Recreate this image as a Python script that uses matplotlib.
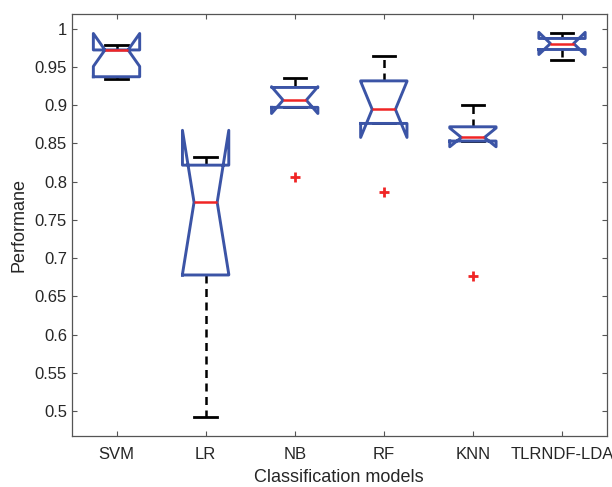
import numpy as np
import matplotlib
matplotlib.use('Agg')
import matplotlib.pyplot as plt

models = ['SVM', 'LR', 'NB', 'RF', 'KNN', 'TLRNDF-LDA']
# boxplot statistics
q1 = [0.937, 0.678, 0.897, 0.876, 0.853, 0.9726]
med = [0.972, 0.773, 0.9064, 0.8943, 0.8577, 0.9804]
q3 = [0.972, 0.8215, 0.923, 0.9316, 0.8716, 0.987]
cilo = [0.9505, 0.679, 0.889, 0.8577, 0.8455, 0.966]
cihi = [0.9935, 0.867, 0.924, 0.9309, 0.870, 0.995]
whislo = [0.934, 0.493, 0.897, 0.876, 0.853, 0.9586]
whishi = [0.979, 0.832, 0.9355, 0.9638, 0.900, 0.9935]
fliers = [[], [], [0.8063], [0.7867], [0.6768], []]

yticks = np.arange(0.5, 1.0001, 0.05)

plt.rcParams['font.family'] = ['Liberation Sans', 'DejaVu Sans']
plt.rcParams['font.size'] = 12

fig = plt.figure(figsize=(6.12, 4.87), dpi=100)
ax = fig.add_axes([0.1176, 0.1053, 0.8735, 0.8660])

stats = []
for i in range(len(models)):
    stats.append(dict(label=models[i], q1=q1[i], med=med[i], q3=q3[i],
                      cilo=cilo[i], cihi=cihi[i], whislo=whislo[i],
                      whishi=whishi[i], fliers=fliers[i]))

blue = '#3b54a6'
red = '#f02525'
# box drawn over whiskers/caps, as matlab does
ax.bxp(stats, positions=range(1, 7), widths=0.52, capwidths=0.25,
       shownotches=True, showfliers=True,
       boxprops=dict(color=blue, linewidth=2.1, zorder=3),
       medianprops=dict(color=red, linewidth=1.8, zorder=4),
       whiskerprops=dict(color='black', linewidth=1.8, linestyle=(0, (3.2, 2.2)), zorder=2),
       capprops=dict(color='black', linewidth=2.0, zorder=2),
       flierprops=dict(marker='+', markeredgecolor=red, markersize=7,
                       markeredgewidth=2.0, linestyle='none'))

ax.set_xlim(0.5, 6.5)
ax.set_ylim(0.468, 1.019)
ax.set_yticks(yticks)
ax.set_yticklabels(['%g' % round(t, 2) for t in yticks])
ax.set_xticks(range(1, 7))
ax.set_xticklabels(models)

ax.tick_params(axis='both', direction='in', length=3.5, width=0.8,
               top=True, right=True, colors='#555555', labelcolor='#262626')
ax.tick_params(axis='x', pad=8)
for s in ax.spines.values():
    s.set_color('#555555')
    s.set_linewidth(0.9)

ax.set_xlabel('Classification models', color='#262626', fontsize=13, labelpad=5)
ax.set_ylabel('Performane', color='#262626', fontsize=13, labelpad=5)

plt.savefig('out.png', dpi=100)
